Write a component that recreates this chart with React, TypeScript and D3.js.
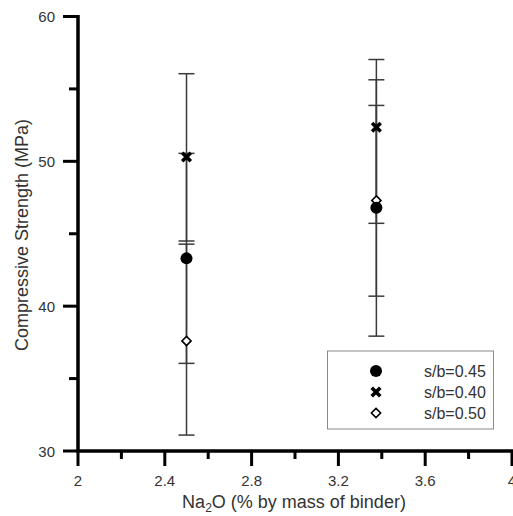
import React from 'react';
import * as d3 from 'd3';

// Na2O dosage (% by mass of binder)
const naOxide = [2.5, 3.375];

const seriesNames = ['s/b=0.45', 's/b=0.40', 's/b=0.50'];

// Mean compressive strength (MPa) and error-bar limits per series
const strength045 = [43.3, 46.8];
const low045 = [36.05, 37.93];
const high045 = [50.55, 55.63];

const strength040 = [50.3, 52.35];
const low040 = [44.5, 45.72];
const high040 = [56.05, 57.03];

const strength050 = [37.6, 47.3];
const low050 = [31.1, 40.69];
const high050 = [44.28, 53.86];

const xTicks = [2, 2.4, 2.8, 3.2, 3.6, 4];
const xMinor = [2.2, 2.6, 3.0, 3.4, 3.8];
const yTicks = [30, 40, 50, 60];
const yMinor = [35, 45, 55];

const W = 513;
const H = 516;
const FONT = "'Liberation Sans', Arial, Helvetica, sans-serif";

type Kind = 'circle' | 'cross' | 'diamond';

function Marker({ kind, cx, cy }: { kind: Kind; cx: number; cy: number }) {
  if (kind === 'circle') {
    return <circle cx={cx} cy={cy} r={6} fill="#000" />;
  }
  if (kind === 'cross') {
    const s = 4.3;
    return (
      <path
        d={`M${cx - s},${cy - s}L${cx + s},${cy + s}M${cx - s},${cy + s}L${cx + s},${cy - s}`}
        stroke="#000"
        strokeWidth={3.6}
        fill="none"
      />
    );
  }
  const d = 4.6;
  return (
    <path
      d={`M${cx},${cy - d}L${cx + d},${cy}L${cx},${cy + d}L${cx - d},${cy}Z`}
      stroke="#000"
      strokeWidth={1.6}
      fill="#fff"
    />
  );
}

export default function App() {
  const x = d3.scaleLinear().domain([2, 4]).range([78, 512]);
  const y = d3.scaleLinear().domain([30, 60]).range([451, 16.5]);

  const series = [
    { name: seriesNames[0], kind: 'circle' as Kind, vals: strength045, lo: low045, hi: high045 },
    { name: seriesNames[1], kind: 'cross' as Kind, vals: strength040, lo: low040, hi: high040 },
    { name: seriesNames[2], kind: 'diamond' as Kind, vals: strength050, lo: low050, hi: high050 },
  ];
  // draw order for markers: diamonds, circles, crosses on top
  const markerOrder = [series[2], series[0], series[1]];

  const capHalf = 8;
  const axisW = 3.5;
  const tickW = 3;
  const x0 = x(2);
  const y0 = y(30);

  return (
    <svg
      width={W}
      height={H}
      style={{ position: 'absolute', left: 0, top: 0, background: '#fff' }}
      fontFamily={FONT}
    >
      <rect width={W} height={H} fill="#fff" />

      {/* error bars */}
      {series.map((s) =>
        naOxide.map((xv, i) => (
          <g key={`${s.name}-${i}`} stroke="#3a3a3a" strokeWidth={1.5}>
            <line x1={x(xv)} x2={x(xv)} y1={y(s.lo[i])} y2={y(s.hi[i])} />
            <line x1={x(xv) - capHalf} x2={x(xv) + capHalf} y1={y(s.lo[i])} y2={y(s.lo[i])} />
            <line x1={x(xv) - capHalf} x2={x(xv) + capHalf} y1={y(s.hi[i])} y2={y(s.hi[i])} />
          </g>
        ))
      )}

      {/* markers */}
      {markerOrder.map((s) =>
        naOxide.map((xv, i) => (
          <Marker key={`${s.name}-m-${i}`} kind={s.kind} cx={x(xv)} cy={y(s.vals[i])} />
        ))
      )}

      {/* x axis (filled rects keep the heavy strokes crisp) */}
      <rect x={x0 - axisW / 2} y={y0 - axisW / 2} width={W - x0 + axisW / 2} height={axisW} fill="#000" />
      {xTicks.map((t) => (
        <g key={`xt-${t}`}>
          <rect x={x(t) - tickW / 2} y={y0} width={tickW} height={15} fill="#000" />
          <text x={x(t)} y={486} textAnchor="middle" fontSize={15} fill="#333">
            {d3.format('')(t)}
          </text>
        </g>
      ))}
      {xMinor.map((t) => (
        <rect key={`xm-${t}`} x={x(t) - tickW / 2} y={y0} width={tickW} height={8} fill="#000" />
      ))}

      {/* y axis */}
      <rect x={x0 - axisW / 2} y={y(60) - tickW / 2} width={axisW} height={y0 - y(60) + tickW / 2} fill="#000" />
      {yTicks.map((t) => (
        <g key={`yt-${t}`}>
          <rect x={x0 - 15} y={y(t) - tickW / 2} width={15} height={tickW} fill="#000" />
          <text x={55} y={y(t) + 5.5} textAnchor="end" fontSize={15} fill="#333">
            {t}
          </text>
        </g>
      ))}
      {yMinor.map((t) => (
        <rect key={`ym-${t}`} x={x0 - 9} y={y(t) - tickW / 2} width={9} height={tickW} fill="#000" />
      ))}

      {/* axis titles */}
      <text
        transform={`translate(28,235) rotate(-90)`}
        textAnchor="middle"
        fontSize={18}
        fill="#333"
      >
        Compressive Strength (MPa)
      </text>
      <text x={294} y={508} textAnchor="middle" fontSize={18} fill="#333">
        Na<tspan fontSize={12} dy={4}>2</tspan>
        <tspan dy={-4}>O (% by mass of binder)</tspan>
      </text>

      {/* legend */}
      <rect x={327.5} y={351} width={166} height={78} fill="#fff" stroke="#8a8a8a" strokeWidth={1} />
      {series.map((s, i) => (
        <g key={`lg-${s.name}`}>
          <Marker kind={s.kind} cx={376} cy={371 + i * 21} />
          <text x={424} y={376.5 + i * 21} fontSize={16} fill="#333">
            {s.name}
          </text>
        </g>
      ))}
    </svg>
  );
}
